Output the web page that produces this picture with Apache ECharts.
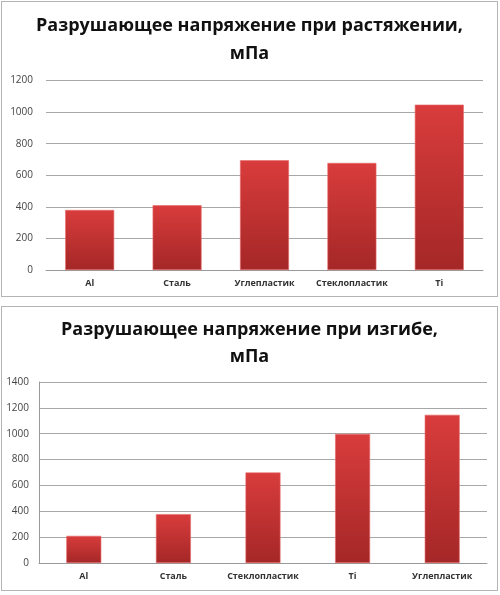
<!DOCTYPE html>
<html>
<head>
<meta charset="utf-8">
<script src="https://cdn.jsdelivr.net/npm/echarts@6/dist/echarts.min.js"></script>
<style>
html,body{margin:0;padding:0;background:#fff;width:500px;height:595px;overflow:hidden;}
.box{position:absolute;border:1px solid #b4b4b4;background:#fff;}
</style>
</head>
<body>
<div id="c1" class="box" style="left:1px;top:1px;width:495px;height:294px;"></div>
<div id="c2" class="box" style="left:1px;top:306px;width:495px;height:283px;"></div>
<script>
// Chart 1: tensile strength
var title1 = "Разрушающее напряжение при растяжении,\nмПа";
var categories1 = ["Al", "Сталь", "Углепластик", "Стеклопластик", "Ti"];
var values1 = [380, 410, 695, 678, 1047];
var yTicks1 = {min: 0, max: 1200, interval: 200};

// Chart 2: flexural strength
var title2 = "Разрушающее напряжение при изгибе,\nмПа";
var categories2 = ["Al", "Сталь", "Стеклопластик", "Ti", "Углепластик"];
var values2 = [210, 378, 700, 998, 1146];
var yTicks2 = {min: 0, max: 1400, interval: 200};

var FONT = "'Open Sans', 'Noto Sans', sans-serif";
var barColor = new echarts.graphic.LinearGradient(0, 0, 0, 1, [
  {offset: 0, color: '#d93c3c'},
  {offset: 1, color: '#a52727'}
]);

function build(el, title, cats, vals, ticks, cfg) {
  var chart = echarts.init(document.getElementById(el), null, {renderer: 'canvas'});
  chart.setOption({
    animation: false,
    title: {
      text: title,
      left: 'center',
      top: cfg.titleTop,
      padding: 0,
      textStyle: {fontFamily: FONT, fontSize: cfg.titleSize, fontWeight: 'bold', color: '#111', lineHeight: cfg.titleLH}
    },
    grid: cfg.grid,
    xAxis: {
      type: 'category',
      data: cats,
      axisLine: {show: true, lineStyle: {color: '#9a9a9a', width: 1}},
      axisTick: {show: false},
      axisLabel: {interval: 0, fontFamily: FONT, fontSize: 9, fontWeight: 'bold', color: '#333', margin: 9}
    },
    yAxis: {
      type: 'value',
      min: ticks.min, max: ticks.max, interval: ticks.interval,
      axisLine: {show: cfg.yLine, lineStyle: {color: '#9a9a9a', width: 1}},
      axisTick: {show: false},
      axisLabel: {fontFamily: FONT, fontSize: 10, color: '#444', margin: cfg.yMargin,
        formatter: function (v) { return String(v); }},
      splitLine: {show: true, lineStyle: {color: '#a8a8a8', width: 1}}
    },
    series: [{
      type: 'bar',
      data: vals,
      barWidth: cfg.barWidth,
      itemStyle: {color: barColor, borderColor: '#e86a6a', borderWidth: 0.6}
    }]
  });
}

build('c1', title1, categories1, values1, yTicks1, {
  titleTop: 10, titleSize: 18, titleLH: 28,
  grid: {left: 44, right: 14, top: 78.5, bottom: 26},
  yLine: false, yMargin: 13, barWidth: '56%'
});
build('c2', title2, categories2, values2, yTicks2, {
  titleTop: 9, titleSize: 18, titleLH: 27,
  grid: {left: 37, right: 10, top: 75, bottom: 27},
  yLine: true, yMargin: 10, barWidth: '39%'
});
</script>
</body>
</html>
